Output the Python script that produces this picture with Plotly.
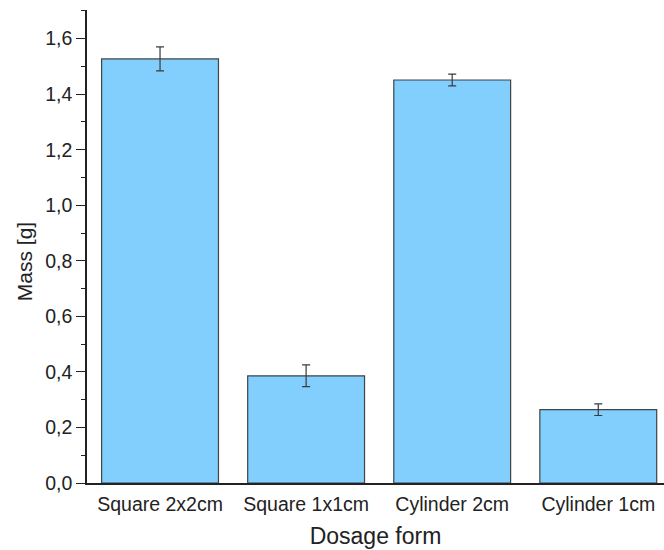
import plotly.graph_objects as go

# Mean mass per dosage form with standard deviation
dosage_forms = ["Square 2x2cm", "Square 1x1cm", "Cylinder 2cm", "Cylinder 1cm"]
mass_g = [1.527, 0.386, 1.451, 0.264]
mass_sd = [0.043, 0.039, 0.021, 0.021]

fig = go.Figure()
fig.add_trace(go.Bar(
    x=list(range(len(dosage_forms))),
    y=mass_g,
    width=0.80,
    marker=dict(color="#82CFFD", line=dict(color="rgba(40,40,40,0.85)", width=1.2)),
    error_y=dict(type="data", array=mass_sd, visible=True,
                 color="#3a3a3a", thickness=1.2, width=4),
))

font_family = "Liberation Sans, Arial, sans-serif"

fig.update_layout(
    width=664, height=550,
    margin=dict(l=87, r=0, t=10, b=67),
    plot_bgcolor="white", paper_bgcolor="white",
    separators=", ",
    showlegend=False,
    font=dict(family=font_family, color="#222222"),
)

fig.update_xaxes(
    range=[-0.5, 3.45],
    tickmode="array",
    tickvals=list(range(len(dosage_forms))),
    ticktext=dosage_forms,
    ticks="",
    ticklabelstandoff=3,
    showline=True, linecolor="#222222", linewidth=1.5,
    showgrid=False, zeroline=False,
    tickfont=dict(size=19.5),
    title=dict(text="Dosage form", font=dict(size=23), standoff=14),
)

fig.update_yaxes(
    range=[0, 1.703],
    tickmode="linear", tick0=0, dtick=0.2,
    tickformat=".1f",
    ticks="outside", ticklen=9, tickwidth=1.3, tickcolor="#222222",
    minor=dict(ticks="outside", ticklen=4, tickwidth=1.2, dtick=0.1, tickcolor="#222222"),
    showline=True, linecolor="#222222", linewidth=1.5,
    showgrid=False, zeroline=False,
    tickfont=dict(size=19.5),
)

# Y-axis title placed slightly below the vertical centre of the plot area
fig.add_annotation(
    text="Mass [g]", textangle=-90,
    xref="paper", yref="paper", x=-0.109, y=0.467,
    xanchor="center", yanchor="middle",
    showarrow=False, font=dict(size=21, family=font_family, color="#222222"),
)

fig.write_html("out.html")
